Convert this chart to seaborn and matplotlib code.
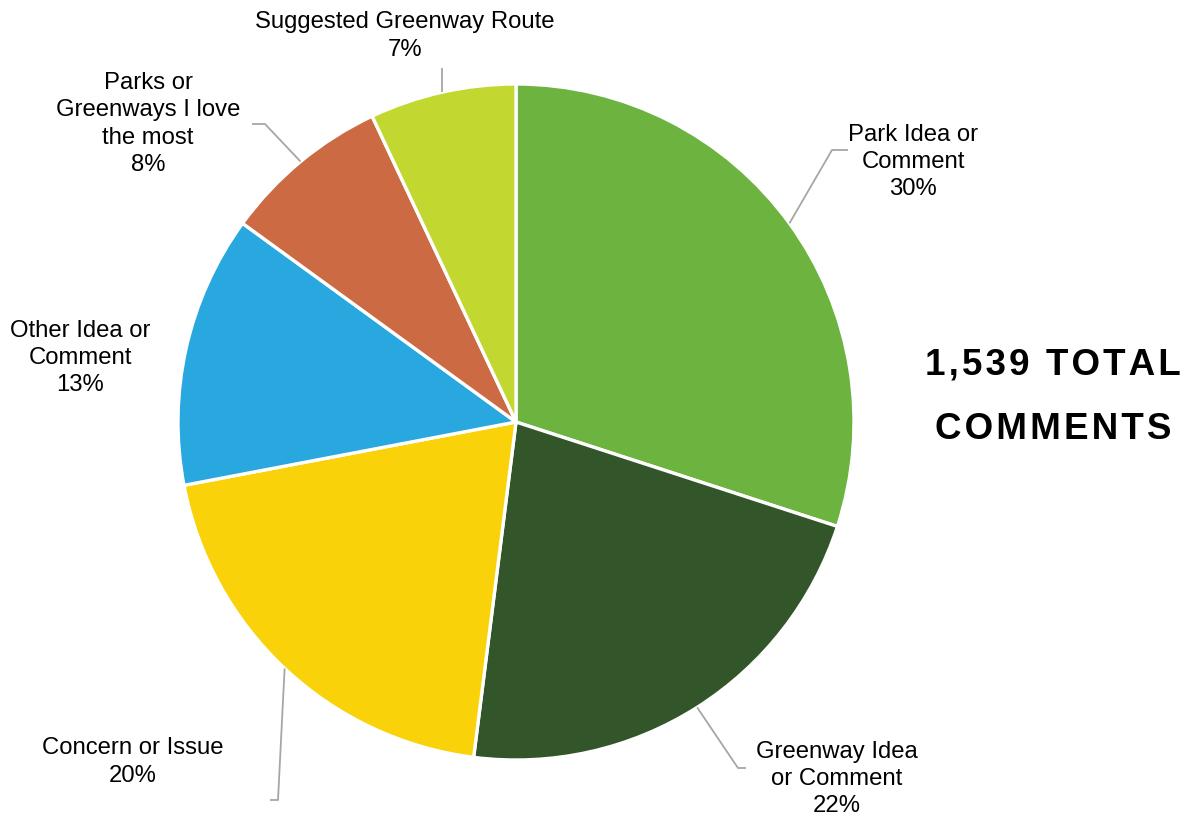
import numpy as np
import matplotlib
matplotlib.use("Agg")
import matplotlib.pyplot as plt
import seaborn as sns

# data
categories = ["Park Idea or\nComment", "Greenway Idea\nor Comment", "Concern or Issue",
              "Other Idea or\nComment", "Parks or\nGreenways I love\nthe most",
              "Suggested Greenway Route"]
shares = [30, 22, 20, 13, 8, 7]
slice_colors = ["#6db33f", "#33552a", "#f9d20a", "#29a8e0", "#cb6a43", "#c2d830"]
total_comments = "1,539"

# layout (pixel coords, y from top)
W, H = 1191, 821
CX, CY, R = 516, 422, 338
label_pos = [(913, 162), (837, 779), (133, 762), (80, 358), (148, 124), (405, 36)]
# leader line bends; None = no leader
leader_bends = [
    [(832, 150), (848, 150)],
    [(738, 768), (746, 768)],
    [(278, 800), (270, 800)],
    None,
    [(265, 124), (252, 124)],
    [(None, 68)],
]

sns.set_theme(style="white")
plt.rcParams["font.family"] = ["Liberation Sans", "DejaVu Sans"]
palette = sns.color_palette(slice_colors)

fig = plt.figure(figsize=(W / 100, H / 100), dpi=100)
ax = fig.add_axes([0, 0, 1, 1])

wedges, _ = ax.pie(shares, colors=palette, startangle=90, counterclock=False,
                   center=(CX, H - CY), radius=R, frame=True,
                   wedgeprops=dict(edgecolor="white", linewidth=2.4))
ax.set_xlim(0, W)
ax.set_ylim(0, H)
ax.set_aspect("equal")
ax.axis("off")

for w, cat, val, (lx, ly), bends in zip(wedges, categories, shares, label_pos, leader_bends):
    ax.text(lx, H - ly, f"{cat}\n{val}%", ha="center", va="center",
            fontsize=17.2, linespacing=1.3, color="black")
    if bends is None:
        continue
    mid = np.deg2rad((w.theta1 + w.theta2) / 2)
    sx, sy = CX + R * np.cos(mid), (H - CY) + R * np.sin(mid)
    xs, ys = [sx], [sy]
    for bx, by in bends:
        xs.append(sx if bx is None else bx)
        ys.append(H - by)
    ax.plot(xs, ys, color="#a6a6a6", lw=1.3, solid_capstyle="butt")

hs = "\u200a"
ax.text(1053, H - 365, hs.join(f"{total_comments} TOTAL"), ha="center", va="center",
        fontsize=26.5, fontweight="bold", color="black")
ax.text(1053, H - 429, hs.join("COMMENTS"), ha="center", va="center",
        fontsize=26.5, fontweight="bold", color="black")

fig.savefig("out.png", dpi=100)
